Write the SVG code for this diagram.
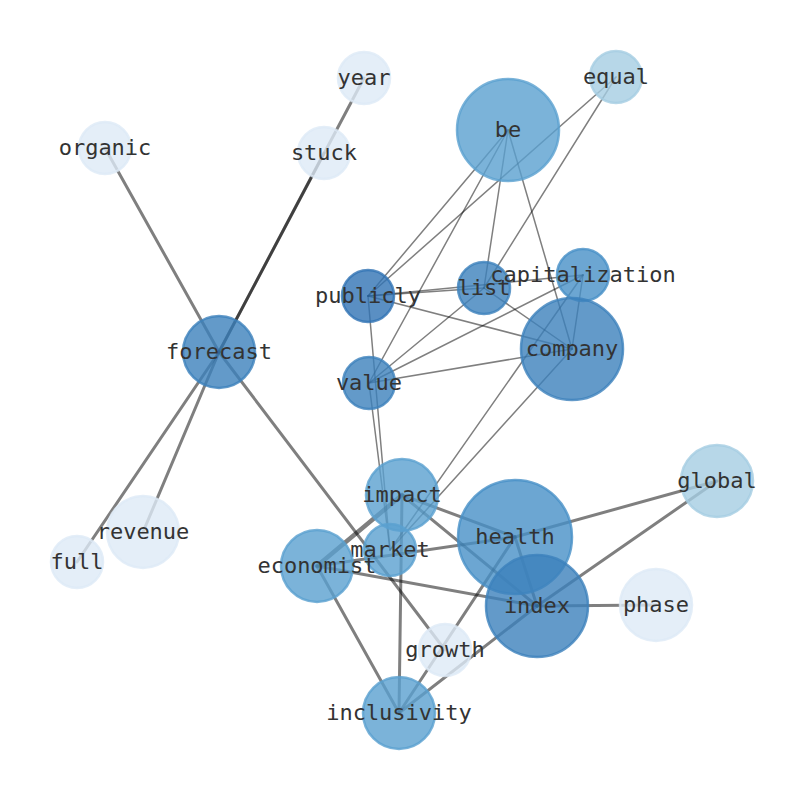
<svg xmlns="http://www.w3.org/2000/svg" width="794" height="790" viewBox="0 0 794 790">
<style>
.e{stroke:#000;stroke-opacity:0.5;stroke-linecap:round;fill:none}
.t{stroke-width:1.5}
.m{stroke-width:3}
.k{stroke-width:4.5}
circle{stroke-width:2.5;fill-opacity:0.8;stroke-opacity:0.8}
.L0{fill:#ddeaf6;stroke:#ddeaf6}
.L1{fill:#a5cde2;stroke:#a5cde2}
.M1{fill:#5aa0d0;stroke:#5aa0d0}
.M2{fill:#3c81bc;stroke:#3c81bc}
.M3{fill:#4790c7;stroke:#4790c7}
.D{fill:#3173b4;stroke:#3173b4}
text{font-family:"DejaVu Sans Mono","Liberation Mono",monospace;font-size:22px;fill:#333;text-anchor:middle}
</style>
<rect width="794" height="790" fill="#fff"/>
<g id="connectors">
<line class="e m" x1="219" y1="352" x2="105" y2="148"/>
<line class="e m" x1="219" y1="352" x2="364" y2="78"/>
<line class="e m" x1="219" y1="352" x2="324" y2="153"/>
<line class="e m" x1="219" y1="352" x2="77" y2="562"/>
<line class="e m" x1="219" y1="352" x2="143" y2="532"/>
<line class="e m" x1="219" y1="352" x2="445" y2="650"/>
<line class="e m" x1="402" y1="495" x2="515" y2="537"/>
<line class="e m" x1="402" y1="495" x2="537" y2="606"/>
<line class="e m" x1="402" y1="495" x2="399" y2="713"/>
<line class="e k" x1="317" y1="566" x2="402" y2="495"/>
<line class="e m" x1="317" y1="566" x2="515" y2="537"/>
<line class="e m" x1="317" y1="566" x2="537" y2="606"/>
<line class="e m" x1="317" y1="566" x2="399" y2="713"/>
<line class="e m" x1="515" y1="537" x2="717" y2="481"/>
<line class="e m" x1="515" y1="537" x2="537" y2="606"/>
<line class="e m" x1="515" y1="537" x2="399" y2="713"/>
<line class="e m" x1="537" y1="606" x2="717" y2="481"/>
<line class="e m" x1="537" y1="606" x2="656" y2="605"/>
<line class="e m" x1="537" y1="606" x2="399" y2="713"/>
<line class="e t" x1="508" y1="130" x2="368" y2="296"/>
<line class="e t" x1="508" y1="130" x2="369" y2="383"/>
<line class="e t" x1="508" y1="130" x2="484" y2="288"/>
<line class="e t" x1="508" y1="130" x2="572" y2="349"/>
<line class="e t" x1="616" y1="77" x2="368" y2="296"/>
<line class="e t" x1="616" y1="77" x2="484" y2="288"/>
<line class="e t" x1="368" y1="296" x2="484" y2="288"/>
<line class="e t" x1="368" y1="296" x2="583" y2="275"/>
<line class="e t" x1="368" y1="296" x2="572" y2="349"/>
<line class="e t" x1="368" y1="296" x2="390" y2="550"/>
<line class="e t" x1="369" y1="383" x2="390" y2="550"/>
<line class="e t" x1="369" y1="383" x2="484" y2="288"/>
<line class="e t" x1="369" y1="383" x2="583" y2="275"/>
<line class="e t" x1="369" y1="383" x2="572" y2="349"/>
<line class="e t" x1="484" y1="288" x2="572" y2="349"/>
<line class="e t" x1="583" y1="275" x2="572" y2="349"/>
<line class="e t" x1="583" y1="275" x2="390" y2="550"/>
<line class="e t" x1="572" y1="349" x2="390" y2="550"/>
</g>
<g id="node-year"><circle class="L0" cx="364" cy="78" r="26"/><text x="364" y="85">year</text></g>
<g id="node-equal"><circle class="L1" cx="616" cy="77" r="26"/><text x="616" y="84">equal</text></g>
<g id="node-be"><circle class="M1" cx="508" cy="130" r="51"/><text x="508" y="137">be</text></g>
<g id="node-organic"><circle class="L0" cx="105" cy="148" r="26"/><text x="105" y="155">organic</text></g>
<g id="node-stuck"><circle class="L0" cx="324" cy="153" r="26"/><text x="324" y="160">stuck</text></g>
<g id="node-publicly"><circle class="D" cx="368" cy="296" r="26"/><text x="368" y="303">publicly</text></g>
<g id="node-list"><circle class="M2" cx="484" cy="288" r="26"/><text x="484" y="295">list</text></g>
<g id="node-capitalization"><circle class="M3" cx="583" cy="275" r="26"/><text x="583" y="282">capitalization</text></g>
<g id="node-company"><circle class="M2" cx="572" cy="349" r="51"/><text x="572" y="356">company</text></g>
<g id="node-forecast"><circle class="M2" cx="219" cy="352" r="36"/><text x="219" y="359">forecast</text></g>
<g id="node-value"><circle class="M2" cx="369" cy="383" r="26"/><text x="369" y="390">value</text></g>
<g id="node-impact"><circle class="M1" cx="402" cy="495" r="36"/><text x="402" y="502">impact</text></g>
<g id="node-health"><circle class="M3" cx="515" cy="537" r="57"/><text x="515" y="544">health</text></g>
<g id="node-global"><circle class="L1" cx="717" cy="481" r="36"/><text x="717" y="488">global</text></g>
<g id="node-market"><circle class="M1" cx="390" cy="550" r="26"/><text x="390" y="557">market</text></g>
<g id="node-economist"><circle class="M1" cx="317" cy="566" r="36"/><text x="317" y="573">economist</text></g>
<g id="node-index"><circle class="M2" cx="537" cy="606" r="51"/><text x="537" y="613">index</text></g>
<g id="node-phase"><circle class="L0" cx="656" cy="605" r="36"/><text x="656" y="612">phase</text></g>
<g id="node-full"><circle class="L0" cx="77" cy="562" r="26"/><text x="77" y="569">full</text></g>
<g id="node-revenue"><circle class="L0" cx="143" cy="532" r="36"/><text x="143" y="539">revenue</text></g>
<g id="node-growth"><circle class="L0" cx="445" cy="650" r="26"/><text x="445" y="657">growth</text></g>
<g id="node-inclusivity"><circle class="M1" cx="399" cy="713" r="36"/><text x="399" y="720">inclusivity</text></g>
</svg>
